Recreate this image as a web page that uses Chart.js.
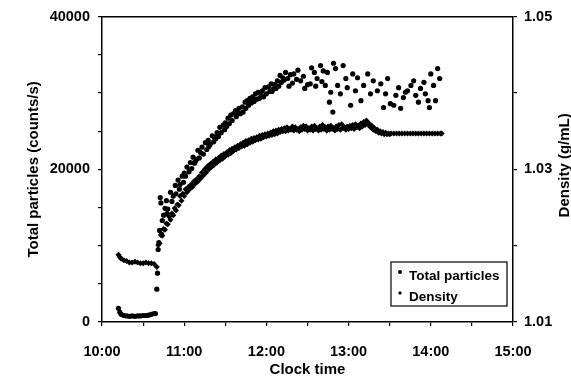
<!DOCTYPE html>
<html><head><meta charset="utf-8">
<script src="https://cdn.jsdelivr.net/npm/chart.js@4/dist/chart.umd.min.js"></script>
<style>html,body{margin:0;padding:0;background:#fff;}#wrap{width:571px;height:392px;}</style>
</head><body><div id="wrap"><canvas id="c" width="571" height="392"></canvas></div>
<script>
// ---- data (time in minutes after 10:00) ----
const hourLabels = ['10:00', '11:00', '12:00', '13:00', '14:00', '15:00'];
const xTitle = 'Clock time';
const leftTitle = 'Total particles (counts/s)';
const rightTitle = 'Density (g/mL)';
const seriesNames = ['Total particles', 'Density'];

const particleTimes = [12, 13, 14, 16, 18, 20, 22, 24, 26, 28, 30, 32, 34, 36, 38, 39,
  40, 40.5, 41, 41.5, 42, 42.5, 43, 43.5, 44, 45, 46, 47, 48, 50, 52, 53.5, 55.5, 57, 58.5, 60,
  62, 64.5, 66.5, 68, 70, 72, 73, 75.5, 77.5, 79, 80.5, 82, 84, 86, 88.5, 90, 92, 94, 96, 97.5,
  99, 100, 102.5, 104.5, 106, 108, 110, 112, 114, 116, 117, 119, 121.5, 123.5, 126, 128, 130,
  132, 134, 135.5, 137.5, 140, 142, 145, 147, 150, 152, 155, 157, 159.5, 161.5, 164.5, 166,
  167, 168.5, 169, 170.5, 172, 174, 176, 178, 179, 181.5, 183, 185, 186.5, 189, 191, 194, 196,
  198, 201, 203.5, 205.5, 207, 208.5, 210.5, 213, 214.5, 216.5, 218, 220, 221.5, 223, 225.5,
  227.5, 229, 231, 232.5, 235, 236, 238, 239, 240, 242, 243.5, 245, 246.5,
  127, 136.5, 139, 143, 148, 153, 156, 160.5, 163, 71, 85, 95, 103, 111, 118, 124,
  47.5, 51, 54, 56.5, 59.5, 61, 63.5, 65.5, 67.5, 69, 74, 76.5, 78, 81.5, 83, 87,
  89.5, 91, 93, 98, 101, 105, 107, 109, 113, 115, 120, 122.5, 125, 129, 131, 133];
const particleCounts = [1800, 1300, 1000, 850, 800, 750, 800, 750, 800, 800, 850, 850, 900, 1000, 1100, 1100,
  4300, 6400, 9500, 10400, 12000, 16300, 15600, 11500, 13300, 14000, 14900, 15900, 14800, 17000, 16500, 17900, 18600, 18000, 19100, 19500,
  20300, 20900, 21600, 21000, 22500, 22200, 22900, 23500, 23800, 23300, 24400, 24200, 24800, 25500, 25800, 26100, 26700, 27100, 27300, 27700,
  27400, 28000, 28200, 28800, 29000, 29300, 29500, 29900, 30100, 29800, 30300, 30700, 30800, 31200, 31100, 31600, 32300,
  32000, 32700, 31900, 32400, 32500, 31800, 31600, 32200, 31100, 31200, 32700, 31900, 33600, 32900, 32700, 28800,
  30100, 27500, 33900, 33200, 31000, 29900, 33600, 31900, 30700, 28400, 32500, 30300, 32000, 29000, 31000, 32500, 29900,
  31600, 30300, 31200, 28100, 29900, 31900, 28600, 28400, 29700, 30700, 28000, 29400, 30100, 30300, 31000,
  31600, 29700, 28800, 30600, 31400, 29900, 29000, 28100, 32500, 31000, 29000, 33200, 31900,
  30600, 30900, 31300, 33000, 30600, 33300, 30900, 31500, 31000, 21500, 24300, 26400, 27500, 28900, 29500, 30200,
  14200, 15800, 16800, 17400, 18300, 19100, 19700, 20100, 20800, 21300, 22000, 22600, 23000, 23600, 24000, 24800,
  25200, 25600, 26000, 26900, 27300, 28000, 28400, 28700, 29200, 29300, 29900, 30200, 30500, 30900, 31400, 31700];

const densityTimes = [12, 13, 14, 16, 18, 20, 22, 24, 26, 28, 30, 32, 34, 36, 38, 40,
  41, 43, 45, 47, 49, 51, 53, 55, 57, 59, 61, 63, 65, 67, 69, 71, 73, 75, 77, 79,
  81, 83, 85, 87, 89, 91, 93, 95, 97, 99, 101, 103, 105, 107, 109, 111, 113, 115, 117, 119,
  121, 123, 125, 127, 129, 131, 133, 135, 137, 139, 141, 143, 145, 147, 149, 151, 153, 155, 157, 159,
  161, 163, 165, 167, 169, 171, 173, 175, 177, 179, 181, 183, 185, 187, 189, 191, 193, 195, 197, 199,
  201, 203, 205, 207, 209, 211, 213, 215, 217, 219, 221, 223, 225, 227, 229, 231, 233, 235, 237, 239,
  241, 243, 245, 247, 248,
  42, 44, 46, 48, 50, 52, 54, 56, 58, 60,
  62, 64, 66, 68, 70, 72, 74, 76, 78, 80,
  82, 84, 86, 88, 90, 92, 94, 96, 98, 100,
  102, 104, 106, 108, 110, 112, 114, 116, 118, 120,
  122, 124, 126, 128, 130, 132, 134, 136, 138, 140,
  142, 144, 146, 148, 150, 152, 154, 156, 158, 160,
  162, 164, 166, 168, 170, 172, 174, 176, 178, 180,
  182, 184, 186, 188, 190, 192, 194, 196, 198, 200,
  202, 204, 206, 208, 210];
const densityValues = [1.0188, 1.0185, 1.0183, 1.0181, 1.0180, 1.0178, 1.0178, 1.0179, 1.0178, 1.0177, 1.0177, 1.0178, 1.0177, 1.0177, 1.0176, 1.0172,
  1.0201, 1.0214, 1.0222, 1.0229, 1.0238, 1.0242, 1.0249, 1.0254, 1.0265, 1.0268, 1.0274, 1.0277, 1.0280, 1.0284, 1.0287, 1.0291, 1.0296, 1.0300, 1.0304, 1.0307,
  1.0310, 1.0313, 1.0315, 1.0318, 1.0320, 1.0322, 1.0325, 1.0327, 1.0329, 1.0331, 1.0333, 1.0335, 1.0337, 1.0338, 1.0340, 1.0341, 1.0342, 1.0344, 1.0345, 1.0346,
  1.0347, 1.0348, 1.0350, 1.0351, 1.0352, 1.0353, 1.0354, 1.0355, 1.0353, 1.0356, 1.0355, 1.0353, 1.0355, 1.0357, 1.0356, 1.0354, 1.0356, 1.0357, 1.0354, 1.0356,
  1.0358, 1.0355, 1.0356, 1.0357, 1.0354, 1.0356, 1.0358, 1.0359, 1.0355, 1.0356, 1.0357, 1.0358, 1.0359, 1.0357, 1.0360, 1.0362, 1.0364, 1.0360, 1.0357, 1.0354,
  1.0352, 1.0350, 1.0349, 1.0348, 1.0347, 1.0347, 1.0347, 1.0347, 1.0347, 1.0347, 1.0347, 1.0347, 1.0347, 1.0347, 1.0347, 1.0347, 1.0347, 1.0347, 1.0347, 1.0347,
  1.0347, 1.0347, 1.0347, 1.0347, 1.0347,
  1.0203, 1.0213, 1.0221, 1.0228, 1.0234, 1.0240, 1.0246, 1.0253, 1.0259, 1.0265,
  1.0270, 1.0274, 1.0277, 1.0281, 1.0284, 1.0288, 1.0292, 1.0296, 1.0300, 1.0303,
  1.0306, 1.0309, 1.0312, 1.0314, 1.0317, 1.0319, 1.0321, 1.0324, 1.0326, 1.0328,
  1.0330, 1.0331, 1.0333, 1.0335, 1.0336, 1.0338, 1.0339, 1.0340, 1.0342, 1.0343,
  1.0344, 1.0345, 1.0346, 1.0347, 1.0349, 1.0350, 1.0350, 1.0351, 1.0352, 1.0351,
  1.0352, 1.0350, 1.0352, 1.0353, 1.0351, 1.0352, 1.0351, 1.0353, 1.0351, 1.0352,
  1.0353, 1.0351, 1.0352, 1.0353, 1.0351, 1.0353, 1.0352, 1.0354, 1.0352, 1.0353,
  1.0354, 1.0353, 1.0355, 1.0354, 1.0356, 1.0358, 1.0359, 1.0355, 1.0352, 1.0350,
  1.0348, 1.0347, 1.0346, 1.0346, 1.0346];

// ---- chart ----
const FONT = "'Liberation Sans', Arial, Helvetica, sans-serif";
const tickFont = { family: FONT, size: 14.5, weight: 'bold' };
const titleFont = { family: FONT, size: 15, weight: 'bold' };

function toPoints(xs, ys) { return xs.map((t, i) => ({ x: t, y: ys[i] })); }

const extrasPlugin = {
  id: 'extras',
  afterDraw(chart) {
    const { ctx, chartArea: a } = chart;
    ctx.save();
    // top frame line
    ctx.strokeStyle = '#000'; ctx.lineWidth = 1.5;
    ctx.beginPath(); ctx.moveTo(a.left, a.top); ctx.lineTo(a.right, a.top); ctx.stroke();
    // right axis title (reads bottom to top, clipped by the page edge as in the source)
    ctx.save();
    ctx.translate(565, a.top + (a.bottom - a.top) / 2 - 4);
    ctx.rotate(-Math.PI / 2);
    ctx.font = 'bold 15px ' + FONT;
    ctx.fillStyle = '#000'; ctx.textAlign = 'center'; ctx.textBaseline = 'middle';
    ctx.fillText(rightTitle, 0, 0);
    ctx.restore();
    // legend box
    const bx = 391, by = 262, bw = 116, bh = 44;
    ctx.fillStyle = '#fff'; ctx.fillRect(bx, by, bw, bh);
    ctx.strokeStyle = '#000'; ctx.lineWidth = 1.2; ctx.strokeRect(bx, by, bw, bh);
    ctx.font = 'bold 13.5px ' + FONT; ctx.textAlign = 'left'; ctx.textBaseline = 'middle'; ctx.fillStyle = '#000';
    chart.data.datasets.forEach((ds, i) => {
      const cy = by + 13 + i * 21;
      ctx.beginPath();
      if (ds.pointStyle === 'rectRot') {
        ctx.moveTo(400, cy - 5); ctx.lineTo(402, cy - 3); ctx.lineTo(400, cy - 1); ctx.lineTo(398, cy - 3);
      } else {
        ctx.arc(400, cy - 3, 2, 0, Math.PI * 2);
      }
      ctx.fill();
      ctx.fillText(ds.label, 409, cy + 1);
    });
    ctx.restore();
  }
};

new Chart(document.getElementById('c'), {
  type: 'scatter',
  data: {
    datasets: [
      { label: seriesNames[0], data: toPoints(particleTimes, particleCounts), yAxisID: 'y',
        pointStyle: 'circle', pointRadius: 2.6, backgroundColor: '#000', borderColor: '#000', borderWidth: 0 },
      { label: seriesNames[1], data: toPoints(densityTimes, densityValues), yAxisID: 'y2',
        pointStyle: 'rectRot', pointRadius: 3.0, backgroundColor: '#000', borderColor: '#000', borderWidth: 0 }
    ]
  },
  options: {
    responsive: false, animation: false, devicePixelRatio: 1,
    layout: { padding: { top: 16, left: 0, right: 0, bottom: 0 } },
    plugins: { legend: { display: false }, tooltip: { enabled: false } },
    scales: {
      x: {
        type: 'linear', position: 'bottom', min: 0, max: 300,
        afterFit(s) { s.height = 70; },
        ticks: { stepSize: 30, autoSkip: false, maxRotation: 0, padding: 17, color: '#000', font: tickFont,
          callback: (v) => (v % 60 === 0 ? hourLabels[v / 60] : '') },
        grid: { drawOnChartArea: false, drawTicks: true, tickLength: 4, color: '#000', lineWidth: 1.2 },
        border: { color: '#000', width: 1.5 },
        title: { display: true, text: xTitle, color: '#000', font: titleFont, padding: { top: 0, bottom: 13 } }
      },
      y: {
        position: 'left', min: 0, max: 40000,
        afterFit(s) { s.width = 102; },
        ticks: { stepSize: 5000, padding: 8, color: '#000', font: tickFont,
          callback: (v) => (v % 20000 === 0 ? String(v) : '') },
        grid: { drawOnChartArea: false, drawTicks: true, tickLength: 4, color: '#000', lineWidth: 1.2 },
        border: { color: '#000', width: 1.5 },
        title: { display: true, text: leftTitle, color: '#000', font: titleFont, padding: { top: 25, bottom: 0 } }
      },
      y2: {
        position: 'right', min: 1.01, max: 1.05,
        afterFit(s) { s.width = 58; },
        ticks: { stepSize: 0.01, padding: 7, color: '#000', font: tickFont,
          callback: (v) => { const k = Math.round(v * 100); return k % 2 === 1 ? v.toFixed(2) : ''; } },
        grid: { drawOnChartArea: false, drawTicks: true, tickLength: 4, color: '#000', lineWidth: 1.2 },
        border: { color: '#000', width: 1.5 }
      }
    }
  },
  plugins: [extrasPlugin]
});
</script></body></html>
